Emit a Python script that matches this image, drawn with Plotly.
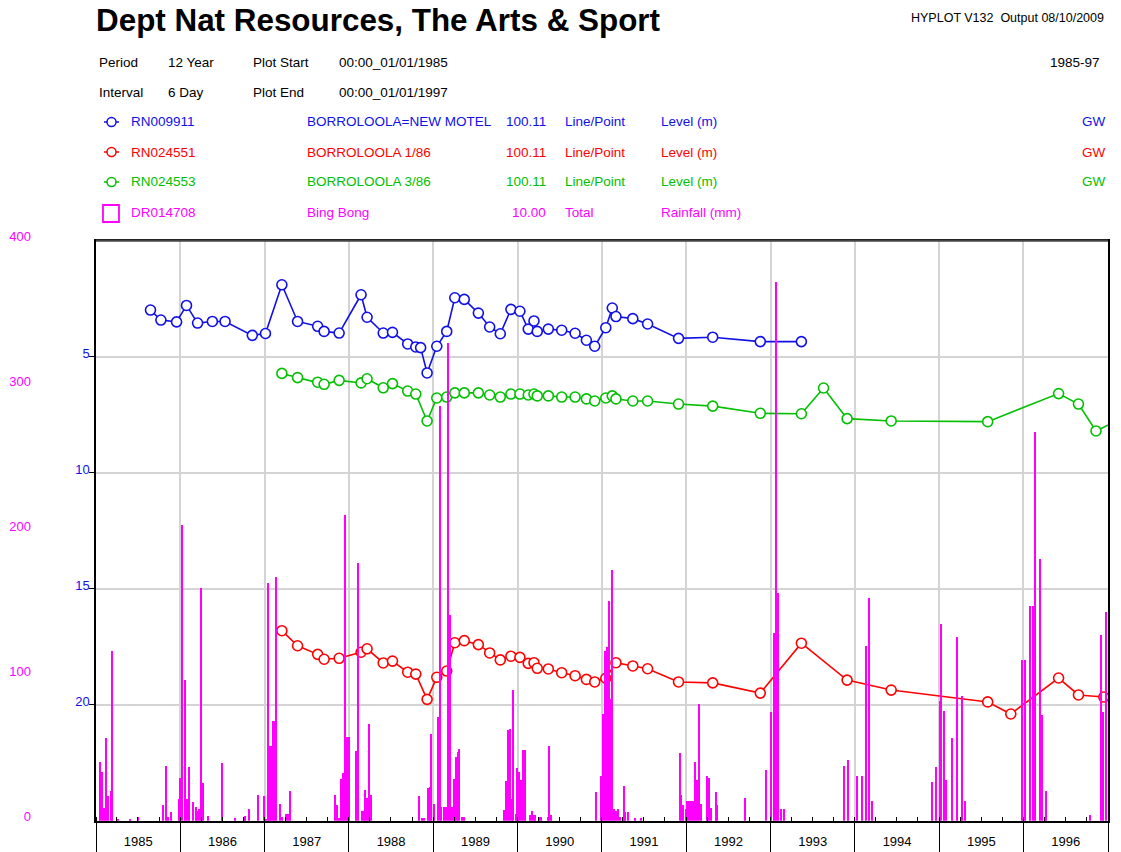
import plotly.graph_objects as go

W, H = 1121, 852

# ---- Groundwater levels (m) ----
rn009911_dates = [
    "1985-08-25", "1985-10-09", "1985-12-16", "1986-01-28", "1986-03-17", "1986-05-20",
    "1986-07-14", "1986-11-09", "1987-01-05", "1987-03-17", "1987-05-24", "1987-08-19",
    "1987-09-16", "1987-11-20", "1988-02-23", "1988-03-20", "1988-05-29", "1988-07-08",
    "1988-09-12", "1988-10-17", "1988-11-07", "1988-12-05", "1989-01-16", "1989-02-28",
    "1989-04-04", "1989-05-15", "1989-07-15", "1989-09-02", "1989-10-18", "1989-12-03",
    "1990-01-11", "1990-02-16", "1990-03-13", "1990-03-27", "1990-05-14", "1990-07-11",
    "1990-09-07", "1990-10-26", "1990-12-01", "1991-01-18", "1991-02-15", "1991-03-03",
    "1991-05-15", "1991-07-18", "1991-11-29", "1992-04-25", "1992-11-17", "1993-05-14",
]
rn009911_level = [
    2.99, 3.42, 3.50, 2.79, 3.55, 3.48,
    3.48, 4.08, 4.00, 1.90, 3.48, 3.69,
    3.91, 3.98, 2.33, 3.30, 3.98, 3.95,
    4.45, 4.58, 4.61, 5.70, 4.55, 3.91,
    2.46, 2.53, 3.12, 3.72, 4.01, 2.96,
    3.04, 3.81, 3.46, 3.91, 3.81, 3.86,
    3.99, 4.29, 4.55, 3.75, 2.90, 3.27,
    3.36, 3.59, 4.21, 4.16, 4.35, 4.35,
]

rn024551_dates = [
    "1987-03-17", "1987-05-24", "1987-08-19", "1987-09-16", "1987-11-20", "1988-02-23",
    "1988-03-20", "1988-05-29", "1988-07-08", "1988-09-12", "1988-10-17", "1988-12-05",
    "1989-01-16", "1989-02-28", "1989-04-04", "1989-05-15", "1989-07-15", "1989-09-02",
    "1989-10-18", "1989-12-03", "1990-01-11", "1990-02-16", "1990-03-13", "1990-03-27",
    "1990-05-14", "1990-07-11", "1990-09-07", "1990-10-26", "1990-12-01", "1991-01-18",
    "1991-03-03", "1991-05-15", "1991-07-18", "1991-11-29", "1992-04-25", "1992-11-17",
    "1993-05-14", "1993-11-28", "1994-06-07", "1995-07-30", "1995-11-07", "1996-06-01",
    "1996-08-26", "1996-12-14", "1997-03-01",
]
rn024551_level = [
    16.81, 17.46, 17.83, 18.04, 18.00, 17.74,
    17.59, 18.20, 18.12, 18.60, 18.68, 19.77,
    18.82, 18.55, 17.33, 17.24, 17.41, 17.77,
    18.07, 17.91, 17.96, 18.22, 18.19, 18.43,
    18.46, 18.62, 18.75, 18.91, 19.02, 18.86,
    18.19, 18.33, 18.45, 19.02, 19.06, 19.50,
    17.35, 18.94, 19.37, 19.88, 20.40, 18.85,
    19.58, 19.67, 19.70,
]

rn024553_dates = [
    "1987-03-17", "1987-05-24", "1987-08-19", "1987-09-16", "1987-11-20", "1988-02-23",
    "1988-03-20", "1988-05-29", "1988-07-08", "1988-09-12", "1988-10-17", "1988-12-05",
    "1989-01-16", "1989-02-28", "1989-04-04", "1989-05-15", "1989-07-15", "1989-09-02",
    "1989-10-18", "1989-12-03", "1990-01-11", "1990-02-16", "1990-03-13", "1990-03-27",
    "1990-05-14", "1990-07-11", "1990-09-07", "1990-10-26", "1990-12-01", "1991-01-18",
    "1991-02-15", "1991-03-03", "1991-05-15", "1991-07-18", "1991-11-29", "1992-04-25",
    "1992-11-17", "1993-05-14", "1993-08-18", "1993-11-28", "1994-06-07", "1995-07-30",
    "1996-06-01", "1996-08-26", "1996-11-10", "1997-03-01",
]
rn024553_level = [
    5.72, 5.90, 6.10, 6.19, 6.02, 6.13,
    5.95, 6.34, 6.16, 6.48, 6.61, 7.77,
    6.78, 6.74, 6.56, 6.56, 6.56, 6.65,
    6.74, 6.61, 6.61, 6.65, 6.61, 6.69,
    6.69, 6.74, 6.74, 6.82, 6.91, 6.78,
    6.69, 6.82, 6.91, 6.91, 7.04, 7.13,
    7.44, 7.46, 6.35, 7.67, 7.77, 7.80,
    6.59, 7.04, 8.20, 7.67,
]

# ---- Bing Bong rainfall, 6-day totals (mm); intervals with no rain omitted ----
rain_dates = [
    "1985-01-18", "1985-01-28", "1985-02-05", "1985-02-13", "1985-02-21", "1985-03-07",
    "1985-03-14", "1985-04-08", "1985-05-31", "1985-07-01", "1985-10-19", "1985-11-03",
    "1985-11-11", "1985-11-22", "1985-12-26",
    "1986-01-01", "1986-01-11", "1986-01-21", "1986-01-29", "1986-02-08", "1986-02-26",
    "1986-03-09", "1986-03-16", "1986-03-24", "1986-04-02", "1986-04-12", "1986-05-02",
    "1986-07-02", "1986-08-26", "1986-10-04", "1986-10-10", "1986-10-27", "1986-12-05",
    "1986-12-30",
    "1987-01-07", "1987-01-17", "1987-01-24", "1987-01-31", "1987-02-07", "1987-02-13",
    "1987-02-20", "1987-03-11", "1987-03-20", "1987-04-06", "1987-04-13", "1987-04-22",
    "1987-11-04", "1987-11-13", "1987-11-20", "1987-11-30", "1987-12-07", "1987-12-16",
    "1987-12-24",
    "1988-01-01", "1988-01-31", "1988-02-09", "1988-02-26", "1988-03-06", "1988-03-13",
    "1988-03-20", "1988-03-28", "1988-04-05", "1988-10-30", "1988-11-13", "1988-11-22",
    "1988-12-09", "1988-12-17", "1988-12-24",
    "1989-01-03", "1989-01-20", "1989-01-29", "1989-02-06", "1989-02-15", "1989-02-25",
    "1989-03-06", "1989-03-16", "1989-03-24", "1989-04-02", "1989-04-09", "1989-04-17",
    "1989-04-24", "1989-05-05", "1989-05-15", "1989-11-04", "1989-11-13", "1989-11-22",
    "1989-11-29", "1989-12-08", "1989-12-15", "1989-12-24", "1989-12-30",
    "1990-01-07", "1990-01-15", "1990-01-24", "1990-02-02", "1990-02-23", "1990-03-04",
    "1990-03-12", "1990-03-20", "1990-04-04", "1990-04-14", "1990-05-12", "1990-05-19",
    "1990-05-28", "1990-12-09", "1990-12-31",
    "1991-01-07", "1991-01-15", "1991-01-23", "1991-01-31", "1991-02-08", "1991-02-16",
    "1991-02-23", "1991-03-04", "1991-03-12", "1991-03-20", "1991-04-06", "1991-04-14",
    "1991-04-23", "1991-05-24", "1991-06-19", "1991-12-04", "1991-12-12", "1991-12-21",
    "1991-12-30",
    "1992-01-07", "1992-01-16", "1992-01-24", "1992-01-31", "1992-02-08", "1992-02-16",
    "1992-02-26", "1992-03-08", "1992-03-31", "1992-04-08", "1992-04-17", "1992-05-08",
    "1992-05-16", "1992-09-11", "1992-12-12",
    "1993-01-02", "1993-01-15", "1993-01-24", "1993-02-02", "1993-02-14", "1993-03-01",
    "1993-11-15", "1993-12-02",
    "1994-01-10", "1994-01-31", "1994-02-18", "1994-03-03", "1994-03-16", "1994-12-02",
    "1994-12-20",
    "1995-01-04", "1995-01-08", "1995-01-21", "1995-01-30", "1995-02-25", "1995-03-19",
    "1995-04-09", "1995-04-22", "1995-12-25",
    "1996-01-07", "1996-01-28", "1996-02-10", "1996-02-19", "1996-03-12", "1996-03-20",
    "1996-04-07", "1996-10-15", "1996-12-02", "1996-12-10", "1996-12-23",
]
rain_mm = [
    41, 34, 9, 57, 17, 21,
    117, 1, 1.5, 2.5, 11, 38,
    3, 6.5, 15,
    30, 204, 97.5, 15, 37, 13,
    10, 7, 8.6, 161, 26, 3.3,
    40, 1.8, 2, 3.5, 8.5, 17.7,
    17,
    1, 164, 52, 52, 69, 69,
    168, 12, 3, 5, 5, 20.5,
    17.7, 11.3, 2, 29, 33, 211,
    58,
    58, 48, 178, 7, 7, 21.6,
    16, 67, 17.7, 17.5, 2, 2,
    23, 23.4, 60,
    12, 72, 286, 9.7, 10, 10,
    330, 142, 10, 29, 44, 47.6,
    50, 3, 3, 7.4, 27.6, 63,
    63.7, 15, 90.6, 5, 36.6,
    34, 28, 49, 49, 4, 7,
    4, 4, 3, 3, 3, 51.7,
    4, 20, 30.8,
    74, 117, 120, 152, 84, 173,
    8, 7, 8, 3, 24, 6,
    6, 2, 2, 47, 17.7, 11,
    8,
    14, 14, 14, 14, 40.7, 28.5,
    81, 12, 30.8, 30, 9, 20,
    11, 16, 35,
    75, 130, 372, 157, 8, 8,
    38, 42,
    31, 31, 121, 154, 14, 27,
    37,
    83, 136, 76, 28, 57, 127,
    86, 14, 111,
    111, 148, 148, 268, 181, 73,
    21, 4, 128, 75, 144,
]

BLUE = "#1010e8"
RED = "#ff0000"
GREEN = "#00c000"
MAGENTA = "#ff00ff"
FONT = "Liberation Sans, Arial, sans-serif"
TXT = 13.5


def px(x):
    return x / W


def py(y):
    return 1 - y / H


fig = go.Figure()

for dates, lev, col in [
    (rn009911_dates, rn009911_level, BLUE),
    (rn024553_dates, rn024553_level, GREEN),
    (rn024551_dates, rn024551_level, RED),
]:
    fig.add_trace(go.Scatter(
        x=dates, y=lev, mode="lines+markers",
        line=dict(color=col, width=1.6),
        marker=dict(symbol="circle", size=10, color="white",
                    line=dict(color=col, width=1.6)),
        cliponaxis=True, showlegend=False,
    ))

fig.add_trace(go.Bar(
    x=rain_dates, y=rain_mm, yaxis="y2",
    width=6 * 86400000, marker=dict(color=MAGENTA, line=dict(width=0)),
    showlegend=False,
))

# ---- header text ----
ann = []


def text(x, y, s, size=TXT, color="black", anchor="left", bold=False):
    ann.append(dict(
        x=px(x), y=py(y), xref="paper", yref="paper", text=f"<b>{s}</b>" if bold else s,
        showarrow=False, xanchor=anchor, yanchor="middle",
        font=dict(family=FONT, size=size, color=color),
    ))


text(94, 20, "Dept Nat Resources, The Arts &amp; Sport", size=31.4, bold=True)
text(1106, 18, "HYPLOT V132  Output 08/10/2009", size=12.5, anchor="right")
text(97, 62, "Period")
text(166, 62, "12 Year")
text(251, 62, "Plot Start")
text(337, 62, "00:00_01/01/1985")
text(1102, 62, "1985-97", anchor="right")
text(97, 92, "Interval")
text(166, 92, "6 Day")
text(251, 92, "Plot End")
text(337, 92, "00:00_01/01/1997")

legend_rows = [
    ("RN009911", "BORROLOOLA=NEW MOTEL", "100.11", "Line/Point", "Level (m)", "GW", BLUE),
    ("RN024551", "BORROLOOLA 1/86", "100.11", "Line/Point", "Level (m)", "GW", RED),
    ("RN024553", "BORROLOOLA 3/86", "100.11", "Line/Point", "Level (m)", "GW", GREEN),
    ("DR014708", "Bing Bong", "10.00", "Total", "Rainfall (mm)", "", MAGENTA),
]
shapes = []
for i, (sid, name, scale, style, unit, kind, col) in enumerate(legend_rows):
    yy = 122 + 30 * i
    text(129, yy, sid, color=col)
    text(305, yy, name, color=col)
    text(548, yy, scale, color=col, anchor="right")
    text(563, yy, style, color=col)
    text(659, yy, unit, color=col)
    if kind:
        text(1108, yy, kind, color=col, anchor="right")
    if i < 3:
        shapes.append(dict(type="line", xref="paper", yref="paper",
                           x0=px(104), x1=px(119), y0=py(yy), y1=py(yy),
                           line=dict(color=col, width=1.5)))
        shapes.append(dict(type="circle", xref="paper", yref="paper",
                           x0=px(107), x1=px(116), y0=py(yy - 4.5), y1=py(yy + 4.5),
                           fillcolor="white", line=dict(color=col, width=1.5)))
    else:
        shapes.append(dict(type="rect", xref="paper", yref="paper",
                           x0=px(103), x1=px(119), y0=py(205), y1=py(222),
                           line=dict(color=col, width=1.8)))

# darker top edge of the plot frame
shapes.append(dict(type="line", xref="paper", yref="paper",
                   x0=px(96), x1=px(1108), y0=py(240.7), y1=py(240.7),
                   line=dict(color="#444444", width=2.2)))

x0, x1 = 96, 1108
ytop, ybot = 240.7, 820.7

fig.update_layout(
    width=W, height=H,
    margin=dict(l=0, r=0, t=0, b=0, autoexpand=False),
    paper_bgcolor="white", plot_bgcolor="white",
    font=dict(family=FONT, size=13, color="black"),
    annotations=ann, shapes=shapes, bargap=0,
    xaxis=dict(
        domain=[px(x0), px(x1)], type="date", automargin=False,
        range=["1985-01-01", "1997-01-01"],
        tick0="1985-01-01", dtick="M12", ticklabelmode="period", tickformat="%Y",
        ticks="outside", ticklen=31, tickwidth=1.2, tickcolor="black",
        ticklabelstandoff=-23,
        showgrid=True, gridcolor="#d4d4d4", gridwidth=1.5,
        showline=True, linecolor="black", linewidth=1.5, mirror=True,
        tickfont=dict(size=13, color="black"),
        minor=dict(dtick="M3", ticks="inside", ticklen=4, tickcolor="black", showgrid=False),
    ),
    yaxis=dict(
        domain=[py(ybot), py(ytop)], range=[25, 0], automargin=False,
        tickvals=[5, 10, 15, 20], ticks="outside", ticklen=5, tickcolor="black",
        showgrid=True, gridcolor="#d4d4d4", gridwidth=1.5, zeroline=False,
        showline=True, linecolor="black", linewidth=1.5, mirror=True,
        tickfont=dict(size=13, color=BLUE), ticklabelshift=3, ticklabelstandoff=-3,
    ),
    yaxis2=dict(
        overlaying="y", anchor="free", position=px(31), range=[0, 400], automargin=False,
        tickvals=[0, 100, 200, 300, 400], ticks="", showgrid=False,
        showline=False, zeroline=False,
        tickfont=dict(size=13, color=MAGENTA), ticklabelshift=-4,
    ),
)

fig.write_html("out.html")
